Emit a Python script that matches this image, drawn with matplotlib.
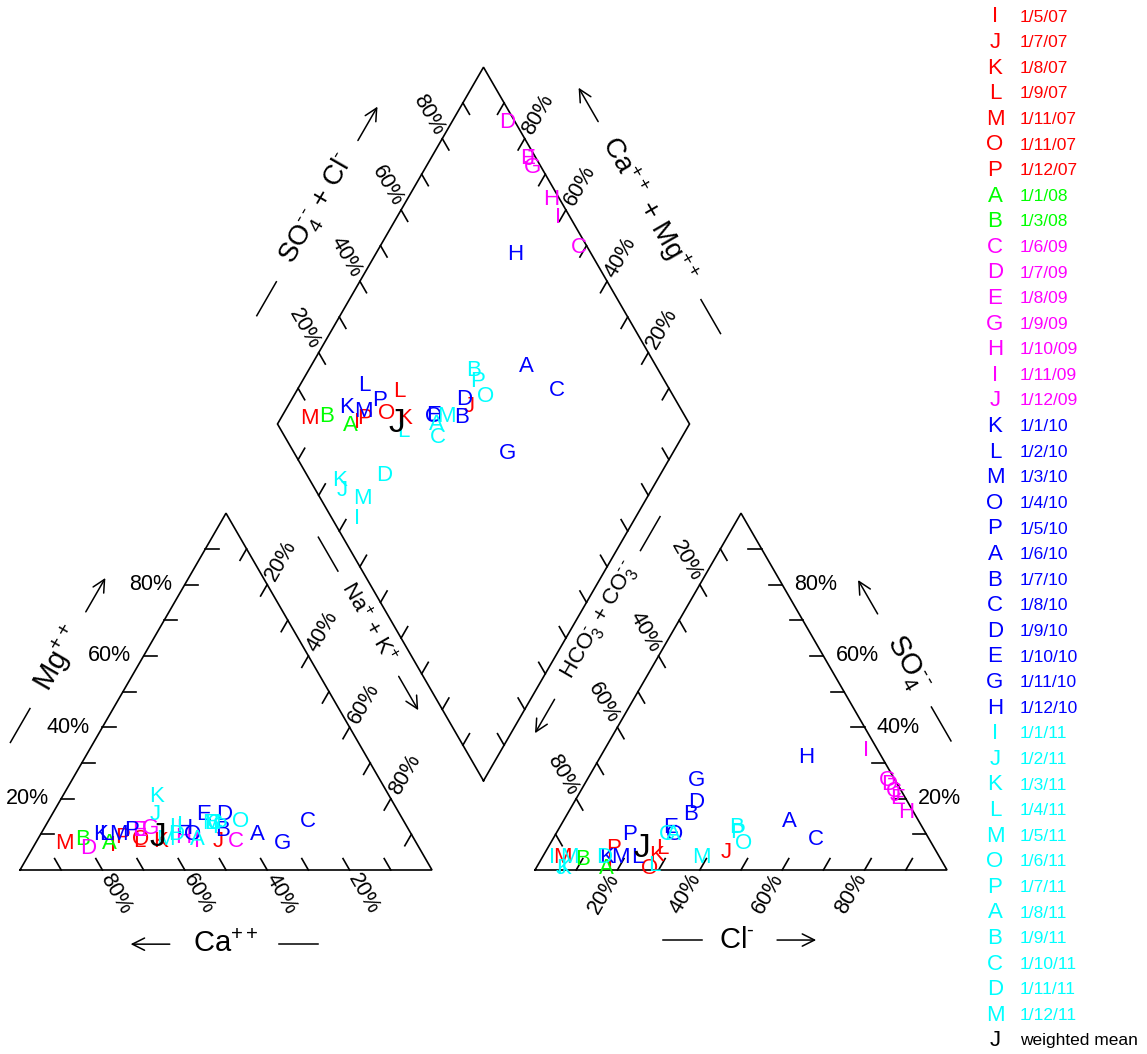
import numpy as np
import matplotlib
matplotlib.use('Agg')
import matplotlib.pyplot as plt

plt.rcParams['font.family'] = ['Liberation Sans', 'DejaVu Sans']
plt.rcParams['mathtext.fontset'] = 'custom'
plt.rcParams['mathtext.rm'] = 'Liberation Sans'
plt.rcParams['mathtext.it'] = 'Liberation Sans:italic'
plt.rcParams['mathtext.bf'] = 'Liberation Sans:bold'

# samples, in legend order
letters = ['I', 'J', 'K', 'L', 'M', 'O', 'P', 'A', 'B',
           'C', 'D', 'E', 'G', 'H', 'I', 'J',
           'K', 'L', 'M', 'O', 'P', 'A', 'B', 'C', 'D', 'E', 'G', 'H',
           'I', 'J', 'K', 'L', 'M', 'O', 'P', 'A', 'B', 'C', 'D', 'M', 'J']
dates = ['1/5/07', '1/7/07', '1/8/07', '1/9/07', '1/11/07', '1/11/07', '1/12/07',
         '1/1/08', '1/3/08',
         '1/6/09', '1/7/09', '1/8/09', '1/9/09', '1/10/09', '1/11/09', '1/12/09',
         '1/1/10', '1/2/10', '1/3/10', '1/4/10', '1/5/10', '1/6/10', '1/7/10',
         '1/8/10', '1/9/10', '1/10/10', '1/11/10', '1/12/10',
         '1/1/11', '1/2/11', '1/3/11', '1/4/11', '1/5/11', '1/6/11', '1/7/11',
         '1/8/11', '1/9/11', '1/10/11', '1/11/11', '1/12/11', 'weighted mean']
colors = ['#FF0000'] * 7 + ['#00FF00'] * 2 + ['#FF00FF'] * 7 + \
         ['#0000FF'] * 12 + ['#00FFFF'] * 12 + ['black']

# cations, percent of meq/L
ca = [74, 48, 62, 67, 85.5, 66.5, 70.5, 74.5, 80.5,
      43.5, 80.5, 65.5, 62.5, 56, 53, 65,
      75.5, 74.3, 71, 53, 67.5, 37.5, 45.3, 23.3, 42.8, 47.8, 32.5, 54.5,
      55, 59.5, 56.5, 56.3, 47, 39.8, 45.5, 52.8, 47, 46.2, 57, 60.5, 62]
mg = [7, 8, 8, 8, 7.5, 8.5, 9, 7.5, 8.5,
      8, 6, 11, 11.5, 9, 8, 11,
      10, 10, 10, 10, 11, 10, 11, 13.5, 15.5, 15.5, 7.5, 11.5,
      12.5, 15.5, 20.5, 12, 13, 13.5, 12, 8.5, 13, 13, 10, 8.5, 9]
na_k = [19, 44, 30, 25, 7, 25, 20.5, 18, 11,
        48.5, 13.5, 23.5, 26, 35, 39, 24,
        14.5, 15.7, 19, 37, 21.5, 52.5, 43.7, 63.2, 41.7, 36.7, 60, 34,
        32.5, 25, 23, 31.7, 40, 46.7, 42.5, 38.7, 40, 40.8, 33, 31, 29]

# anions, percent of meq/L
hco3 = [80.5, 51, 68.5, 66, 91.5, 72, 78, 82.5, 87,
        2, 2, 2, 2, 2, 3, 2,
        81, 73.4, 77.4, 61, 72, 31.5, 54.5, 27.5, 51.3, 61, 48.3, 18.5,
        94, 93.5, 92.7, 70.4, 57.9, 45.5, 45.5, 61.5, 45, 63, 81.4, 89.9, 71]
so4 = [2.5, 5, 4, 6, 3.5, 0.5, 6, 0.5, 3,
       22, 24, 20, 25, 16, 33.5, 21,
       3.5, 3.6, 3.6, 10, 10, 13.5, 15.5, 8.5, 19, 12, 25, 31.5,
       3.5, 0.5, 0.5, 1.4, 3.6, 7.5, 10.5, 10, 12, 10, 3.6, 3.6, 6]
cl = [17, 44, 27.5, 28, 5, 27.5, 16, 17, 10,
      76, 74, 78, 73, 82, 63.5, 77,
      15.5, 23, 19, 29, 18, 55, 30, 64, 29.7, 27, 26.7, 50,
      2.5, 6, 6.8, 28.2, 38.5, 47, 44, 28.5, 43, 27, 15, 6.5, 23]

H = np.sqrt(3) / 2
GAP = 0.25
PX = 412.0  # pixels per triangle side

# triangle / diamond corners
A, B, C = np.array([0, 0]), np.array([1, 0]), np.array([0.5, H])
A2, B2, C2 = A + [1 + GAP, 0], B + [1 + GAP, 0], C + [1 + GAP, 0]
Bt = np.array([1 + GAP / 2, GAP * H])
L = Bt + [-0.5, H]
R = Bt + [0.5, H]
T = Bt + [0, 2 * H]

ca_a, mg_a, nk_a = np.array(ca), np.array(mg), np.array(na_k)
hc_a, so_a, cl_a = np.array(hco3), np.array(so4), np.array(cl)
ct = ca_a + mg_a + nk_a
at = hc_a + so_a + cl_a
m_f, n_f = mg_a / ct, nk_a / ct
s_f, c_f = so_a / at, cl_a / at

cat_x, cat_y = n_f + m_f / 2, m_f * H
an_x, an_y = 1 + GAP + c_f + s_f / 2, s_f * H
sc = s_f + c_f
dia_x = L[0] + 0.5 * sc + 0.5 * n_f
dia_y = L[1] + H * sc - H * n_f

fig = plt.figure(figsize=(11.47, 10.54), dpi=100)
ax = fig.add_axes([0, 0, 1, 1])
ax.set_xlim(-20 / PX, 1127 / PX)
ax.set_ylim(-184 / PX, 870 / PX)
ax.axis('off')

lw = 1.2
for poly in ([A, B, C, A], [A2, B2, C2, A2], [Bt, R, T, L, Bt]):
    p = np.array(poly)
    ax.plot(p[:, 0], p[:, 1], color='black', lw=lw, solid_joinstyle='miter')

TL = 0.032
s60 = np.array([0.5, H])
b60 = np.array([-0.5, H])
# (start, end, tick direction, label rotation, ha, label offset)
edges = [
    (B, A, b60, -60, 'left', -b60 * 0.014),
    (A, C, np.array([1, 0]), 0, 'right', np.array([-0.03, 0])),
    (C, B, -s60, 60, 'left', s60 * 0.015),
    (A2, B2, s60, 60, 'right', -s60 * 0.015),
    (B2, C2, np.array([-1, 0]), 0, 'left', np.array([0.03, 0])),
    (C2, A2, -b60, -60, 'right', b60 * 0.015),
    (L, T, -b60, -60, 'right', b60 * 0.015),
    (R, T, -s60, 60, 'left', s60 * 0.015),
    (Bt, L, s60, None, None, None),
    (Bt, R, b60, None, None, None),
]
for p0, p1, tdir, rot, ha, off in edges:
    tdir = tdir / np.hypot(*tdir)
    for k in range(1, 10):
        p = p0 + (p1 - p0) * k / 10
        q = p + tdir * TL
        ax.plot([p[0], q[0]], [p[1], q[1]], color='black', lw=lw)
        if rot is not None and k % 2 == 0:
            lp = p + off
            ax.text(lp[0], lp[1], f'{k * 10}%', rotation=rot, ha=ha, va='center',
                    rotation_mode='anchor', fontsize=15.5)

# short hyphens for the charges (mathtext turns '-' into a long minus)
hy = '\u2010'
hy2 = hy + r'\,' + hy
t_ca = 'Ca$^{++}$'
t_cl = 'Cl$^{%s}$' % hy
t_mg = 'Mg$^{++}$'
t_so4 = 'SO$_4^{%s}$' % hy2
t_socl = 'SO$_4^{%s}$ + Cl$^{%s}$' % (hy2, hy)
t_camg = 'Ca$^{++}$ + Mg$^{++}$'
t_nak = 'Na$^{+}$ + K$^{+}$'
t_hco3 = 'HCO$_3^{%s}$ + CO$_3^{%s}$' % (hy, hy2)

# axis titles with arrow: edge, outward normal, rotation, text, size,
# along-offsets of text / line / arrow, normal offset
titles = [
    (B, A, np.array([0, -1]), 0, t_ca, 21, 0.0, -0.177, 0.184, 0.18),
    (A2, B2, np.array([0, -1]), 0, t_cl, 21, -0.01, -0.141, 0.135, 0.17),
    (A, C, np.array([-H, 0.5]), 60, t_mg, 21, -0.01, -0.196, 0.17, 0.175),
    (B2, C2, np.array([H, 0.5]), -60, t_so4, 21, -0.017, -0.186, 0.17, 0.165),
    (L, T, np.array([-H, 0.5]), 60, t_socl, 20, 0.0, -0.25, 0.241, 0.175),
    (R, T, np.array([H, 0.5]), -60, t_camg, 20, 0.0, -0.30, 0.294, 0.175),
    (C, B, np.array([H, 0.5]), -60, t_nak, 16, -0.099, -0.29, 0.10, 0.165),
    (C2, A2, np.array([-H, 0.5]), 60, t_hco3, 16, -0.102, -0.347, 0.165, 0.166),
]
SEG = 0.095
for p0, p1, nrm, rot, txt, fs, tt, tline, tarr, off in titles:
    d = (p1 - p0) / np.hypot(*(p1 - p0))
    mid = (p0 + p1) / 2 + nrm * off
    tp = mid + d * tt
    ax.text(tp[0], tp[1], txt, rotation=rot, ha='center', va='center',
            rotation_mode='anchor', fontsize=fs)
    lc = mid + d * tline
    a0, a1 = lc - d * SEG / 2, lc + d * SEG / 2
    ax.plot([a0[0], a1[0]], [a0[1], a1[1]], color='black', lw=1.1)
    ac = mid + d * tarr
    ax.annotate('', xy=ac + d * SEG / 2, xytext=ac - d * SEG / 2,
                arrowprops=dict(arrowstyle='->', lw=1.1, color='black',
                                mutation_scale=22, shrinkA=0, shrinkB=0))

# sample letters in all three plots
for i in range(len(letters)):
    fs = 24 if colors[i] == 'black' else 16
    for x, y in ((cat_x[i], cat_y[i]), (an_x[i], an_y[i]), (dia_x[i], dia_y[i])):
        ax.text(x, y, letters[i], color=colors[i], fontsize=fs,
                ha='center', va='center')

# legend
W, Hh = 1147.0, 1054.0
y0, y1 = 17, 1041
for i in range(len(letters)):
    yp = y0 + (y1 - y0) * i / (len(letters) - 1)
    fig.text(995 / W, 1 - yp / Hh, letters[i], color=colors[i], fontsize=16,
             ha='center', va='center')
    fig.text(1020 / W, 1 - yp / Hh, dates[i], color=colors[i], fontsize=12.5,
             ha='left', va='center')

fig.savefig('out.png', dpi=100)
